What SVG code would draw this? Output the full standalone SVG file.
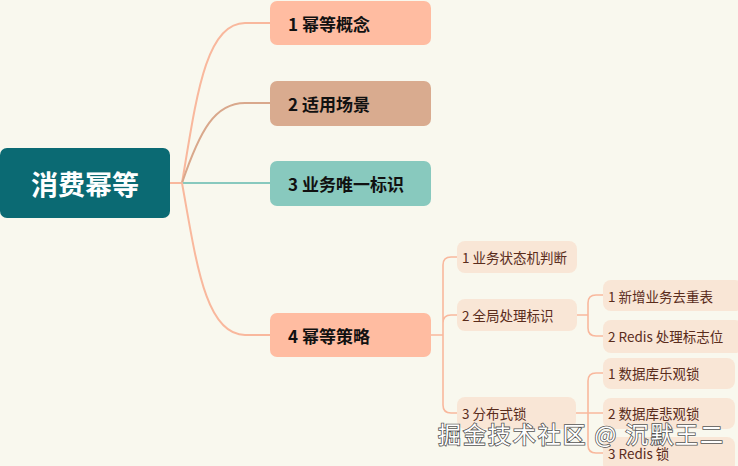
<svg xmlns="http://www.w3.org/2000/svg" width="738" height="466" viewBox="0 0 738 466">
<style>
text{font-family:"Noto Sans CJK SC","Noto Sans",sans-serif;dominant-baseline:central}
.l1{font-size:17px;font-weight:bold;fill:#111}
.l2{font-size:13.5px;fill:#5a2c1c}
.sub{fill:#f9e6d6}
.c{fill:none;stroke-width:2;stroke-linecap:round}
.s{stroke:#f9b89d}
.cs{fill:none;stroke:#f9b89d;stroke-width:1.6}
</style>
<rect width="738" height="466" fill="#f9f8ee"/>
<g id="connectors">
<path class="c s" d="M170,183 H182"/>
<path class="c s" d="M182,183 C196,100 205,23 245,23 H270"/>
<path class="c" stroke="#d9a88c" d="M182,183 C200,130 215,103 245,103 H270"/>
<path class="c" stroke="#88c9be" d="M182,183 H270"/>
<path class="c s" d="M182,183 C196,260 205,335 245,335 H270"/>
<path class="cs" d="M431,335 H443 M443,335 V265 Q443,257 451,257 H457 M443,335 V323 Q443,315 451,315 H457 M443,335 V405 Q443,413 451,413 H457"/>
<path class="cs" d="M577,315 H588 M588,315 V303 Q588,295 596,295 H603 M588,315 V328 Q588,336 596,336 H603"/>
<path class="cs" d="M576,413 H588 M588,413 V381 Q588,373 596,373 H603 M588,413 H603 M588,413 V445 Q588,453 596,453 H603"/>
</g>
<g id="root">
<rect x="0" y="148" width="170" height="70" rx="7" fill="#0b6a73"/>
<text x="85" y="183" text-anchor="middle" font-size="27" font-weight="bold" fill="#fff">消费幂等</text>
</g>
<g id="n1"><rect x="270" y="1" width="161" height="44" rx="7" fill="#ffbca1"/><text class="l1" x="288" y="23">1 幂等概念</text></g>
<g id="n2"><rect x="270" y="81" width="161" height="45" rx="7" fill="#d9ab8f"/><text class="l1" x="288" y="103">2 适用场景</text></g>
<g id="n3"><rect x="270" y="161" width="161" height="45" rx="7" fill="#88c9be"/><text class="l1" x="288" y="183">3 业务唯一标识</text></g>
<g id="n4"><rect x="270" y="313" width="161" height="44" rx="7" fill="#ffbca1"/><text class="l1" x="288" y="335">4 幂等策略</text></g>
<g id="n4-1"><rect class="sub" x="457" y="241" width="120" height="32" rx="8"/><text class="l2" x="462" y="257">1 业务状态机判断</text></g>
<g id="n4-2"><rect class="sub" x="457" y="299" width="120" height="32" rx="8"/><text class="l2" x="462" y="315">2 全局处理标识</text></g>
<g id="n4-3"><rect class="sub" x="457" y="397" width="119" height="32" rx="8"/><text class="l2" x="462" y="413">3 分布式锁</text></g>
<g id="n4-2-1"><rect class="sub" x="603" y="280" width="140" height="31" rx="8"/><text class="l2" x="608" y="296">1 新增业务去重表</text></g>
<g id="n4-2-2"><rect class="sub" x="603" y="320" width="140" height="33" rx="8"/><text class="l2" x="608" y="336">2 Redis 处理标志位</text></g>
<g id="n4-3-1"><rect class="sub" x="603" y="358" width="132" height="31" rx="8"/><text class="l2" x="608" y="373">1 数据库乐观锁</text></g>
<g id="n4-3-2"><rect class="sub" x="603" y="398" width="132" height="31" rx="8"/><text class="l2" x="608" y="413">2 数据库悲观锁</text></g>
<g id="n4-3-3"><rect class="sub" x="603" y="437" width="132" height="35" rx="8"/><text class="l2" x="608" y="453">3 Redis 锁</text></g>
<text x="438" y="433" font-size="23" fill="#fff" stroke="#555" stroke-width="1.6" paint-order="stroke" textLength="285" lengthAdjust="spacing">掘金技术社区 @ 沉默王二</text>
</svg>
